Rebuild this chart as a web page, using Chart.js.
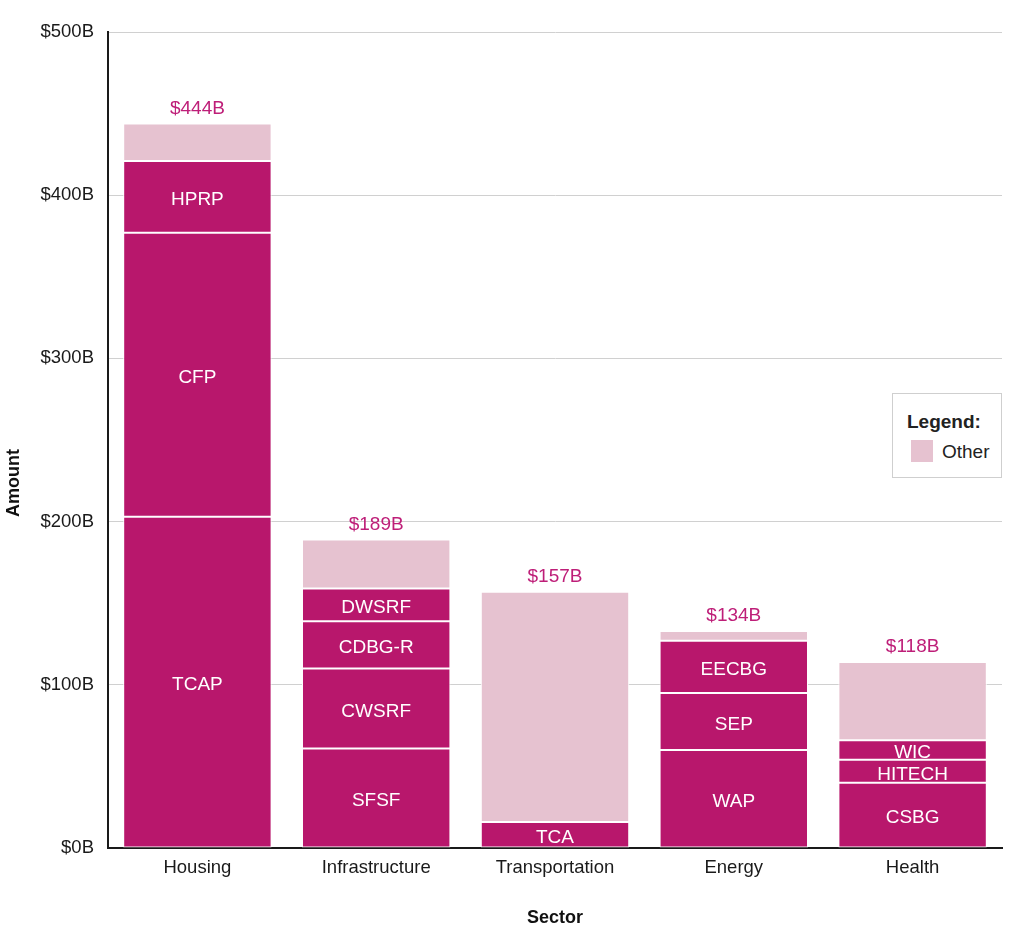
<!DOCTYPE html>
<html>
<head>
<meta charset="utf-8">
<script src="https://cdn.jsdelivr.net/npm/chart.js@4.4.1/dist/chart.umd.min.js"></script>
<style>
  html, body { margin: 0; padding: 0; background: #fff; }
  #wrap { position: relative; width: 1024px; height: 935px; }
  #legend {
    position: absolute; left: 892px; top: 393px; width: 110px; height: 85px;
    border: 1.5px solid #cfcfcf; box-sizing: border-box; background: #fff;
    font-family: "Liberation Sans", Arial, sans-serif; color: #222;
  }
  #legend .title { position: absolute; left: 14px; top: 17px; font-weight: bold; font-size: 19px; line-height: 22px; }
  #legend .sw { position: absolute; left: 18px; top: 46px; width: 22px; height: 22px; background: #E6C2D0; }
  #legend .lbl { position: absolute; left: 49px; top: 47px; font-size: 19px; line-height: 22px; }
</style>
</head>
<body>
<div id="wrap">
  <canvas id="c" width="1024" height="935"></canvas>
  <div id="legend"><span class="title">Legend:</span><span class="sw"></span><span class="lbl">Other</span></div>
</div>
<script>
const categories = ['Housing', 'Infrastructure', 'Transportation', 'Energy', 'Health'];
const layer1Names = ['TCAP', 'SFSF', 'TCA', 'WAP', 'CSBG'];
const layer1Values = [203, 61, 16, 60, 40];
const layer2Names = ['CFP', 'CWSRF', '', 'SEP', 'HITECH'];
const layer2Values = [174, 49, null, 35, 14];
const layer3Names = ['HPRP', 'CDBG-R', '', 'EECBG', 'WIC'];
const layer3Values = [44, 29, null, 32, 12];
const layer4Names = ['', 'DWSRF', '', '', ''];
const layer4Values = [null, 20, null, null, null];
const otherValues = [23, 30, 141, 6, 48];
const totalLabels = ['$444B', '$189B', '$157B', '$134B', '$118B'];
const yTickValues = [0, 100, 200, 300, 400, 500];

const MAIN = '#B8176C';
const OTHER = '#E6C2D0';
const FONT = '"Liberation Sans", Arial, sans-serif';

function ds(label, data, names, color) {
  return {
    label, data, names,
    backgroundColor: color,
    borderColor: '#ffffff',
    borderWidth: 1,
    borderSkipped: false,
    barPercentage: 0.83,
    categoryPercentage: 1.0,
    stack: 's'
  };
}

const labelPlugin = {
  id: 'segLabels',
  afterDatasetsDraw(chart) {
    const ctx = chart.ctx;
    ctx.save();
    ctx.textAlign = 'center';
    ctx.textBaseline = 'middle';
    chart.data.datasets.forEach((d, di) => {
      const meta = chart.getDatasetMeta(di);
      meta.data.forEach((bar, i) => {
        const name = d.names ? d.names[i] : '';
        if (name && d.data[i] != null) {
          ctx.fillStyle = '#ffffff';
          ctx.font = '19px ' + FONT;
          ctx.fillText(name, bar.x, (bar.y + bar.base) / 2 + 3);
        }
        if (d.isOther) {
          ctx.fillStyle = '#BE1E78';
          ctx.font = '19px ' + FONT;
          ctx.fillText(totalLabels[i], bar.x, bar.y - 15);
        }
      });
    });
    const a = chart.chartArea;
    ctx.fillStyle = '#111';
    ctx.font = 'bold 18px ' + FONT;
    ctx.fillText('Sector', (a.left + a.right) / 2, 918);
    ctx.translate(14, 483);
    ctx.rotate(-Math.PI / 2);
    ctx.fillText('Amount', 0, 0);
    ctx.restore();
  }
};

const otherDs = ds('Other', otherValues, null, OTHER);
otherDs.isOther = true;

new Chart(document.getElementById('c'), {
  type: 'bar',
  data: {
    labels: categories,
    datasets: [
      ds('Layer 1', layer1Values, layer1Names, MAIN),
      ds('Layer 2', layer2Values, layer2Names, MAIN),
      ds('Layer 3', layer3Values, layer3Names, MAIN),
      ds('Layer 4', layer4Values, layer4Names, MAIN),
      otherDs
    ]
  },
  options: {
    responsive: false,
    animation: false,
    devicePixelRatio: 1,
    layout: { padding: { top: 32, right: 22, left: 0, bottom: 0 } },
    plugins: { legend: { display: false }, tooltip: { enabled: false } },
    scales: {
      x: {
        stacked: true,
        grid: { display: false, drawTicks: false },
        border: { display: true, color: '#1a1a1a', width: 2 },
        ticks: { color: '#1a1a1a', font: { family: FONT, size: 18.5 }, padding: 9 },
        afterFit(s) { s.height = 87; }
      },
      y: {
        stacked: true,
        min: 0, max: 500,
        afterBuildTicks(s) { s.ticks = yTickValues.map(v => ({ value: v })); },
        grid: { color: '#d0d0d0', lineWidth: 1, drawTicks: false, tickLength: 0 },
        border: { display: true, color: '#1a1a1a', width: 2 },
        ticks: {
          color: '#1a1a1a', font: { family: FONT, size: 18.5 }, padding: 14,
          callback: v => '$' + v + 'B'
        },
        afterFit(s) { s.width = 108; }
      }
    }
  },
  plugins: [labelPlugin]
});
</script>
</body>
</html>
